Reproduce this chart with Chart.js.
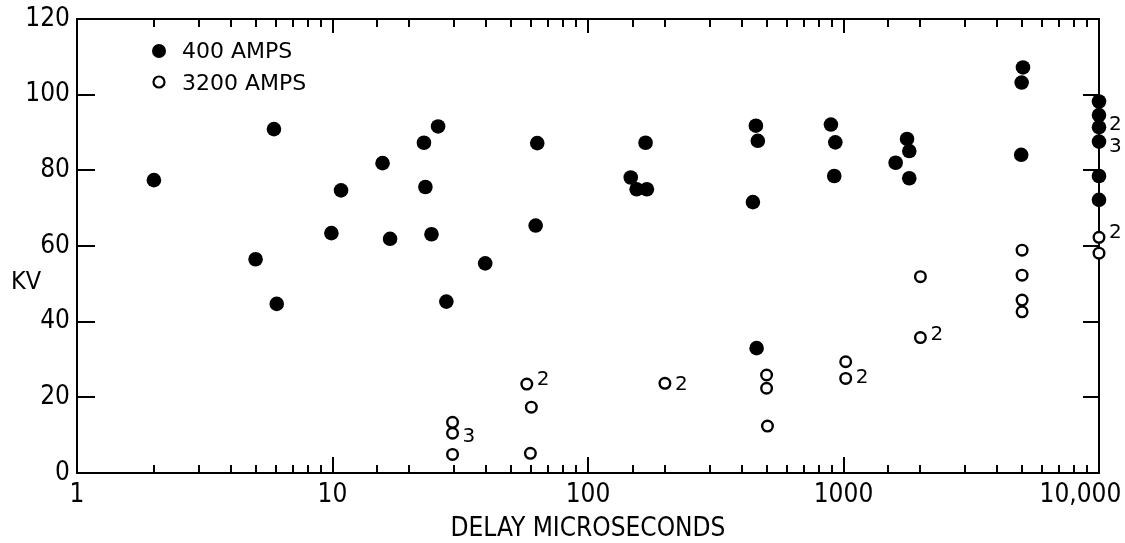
<!DOCTYPE html>
<html>
<head>
<meta charset="utf-8">
<script src="https://cdn.jsdelivr.net/npm/chart.js@4"></script>
<style>
  html, body { margin: 0; padding: 0; background: #fff; }
  #wrap { width: 1125px; height: 543px; }
</style>
</head>
<body>
<div id="wrap"><canvas id="kvChart" width="1125" height="543"></canvas></div>
<script>
// delay (microseconds) and breakdown voltage (kV)
const amps400Delay = [2, 5, 6.05, 5.9, 9.9, 10.8, 15.7, 16.8, 22.8, 23.1, 24.4, 25.9, 27.9, 39.6,
  62.4, 63.3, 147, 155, 168, 170, 442, 454, 457, 462, 893, 920, 929, 1600, 1773, 1809, 1809,
  4960, 4980, 5040, 10000, 10000, 10000, 10000, 10000, 10000];
const amps400Kv = [77.4, 56.5, 44.7, 90.9, 63.4, 74.7, 81.9, 61.9, 87.3, 75.6, 63.1, 91.6, 45.3, 55.4,
  65.4, 87.2, 78.1, 75.0, 87.3, 75.0, 71.6, 91.8, 33.0, 87.8, 92.1, 78.5, 87.4, 82.0, 88.3, 85.1, 77.9,
  84.1, 103.2, 107.2, 98.2, 94.6, 91.4, 87.6, 78.5, 72.2];

const amps3200Delay = [29.5, 29.5, 29.5, 57.6, 60, 59.5, 200, 500, 500, 504, 1020, 1020,
  2000, 2000, 5000, 5000, 5000, 5000, 10000, 10000];
const amps3200Kv = [4.9, 10.5, 13.4, 23.5, 17.4, 5.2, 23.7, 25.9, 22.4, 12.4, 29.4, 25.0,
  51.9, 35.8, 58.9, 52.3, 45.7, 42.6, 62.3, 58.1];

// number of coinciding readings written beside some points
const noteDelay = [10000, 10000, 10000, 29.5, 57.6, 200, 1020, 2000];
const noteKv = [92.0, 86.3, 63.4, 9.5, 24.6, 23.3, 25.1, 36.5];
const noteText = ['2', '3', '2', '3', '2', '2', '2', '2'];

const decadeLabels = ['1', '10', '100', '1000', '10,000'];
const kvTicks = [0, 20, 40, 60, 80, 100, 120];

const narrowFont = '"Liberation Sans Narrow", "DejaVu Sans Condensed", sans-serif';
const plainFont = '"DejaVu Sans", sans-serif';

function toPoints(xs, ys) {
  return xs.map((x, i) => ({ x, y: ys[i] }));
}

function decadeIndex(value) {
  const e = Math.log10(value);
  return Math.abs(e - Math.round(e)) < 1e-9 ? Math.round(e) : -1;
}

// inward tick marks, the top/right frame, legend, KV label and the count notes
const framePlugin = {
  id: 'framePlugin',
  beforeDatasetsDraw(chart) {
    const { ctx, chartArea: a, scales: { x, y } } = chart;
    ctx.save();
    ctx.strokeStyle = '#000';
    ctx.lineWidth = 2;
    ctx.beginPath();
    ctx.moveTo(a.left, a.top);
    ctx.lineTo(a.right, a.top);
    ctx.lineTo(a.right, a.bottom);
    ctx.stroke();

    ctx.beginPath();
    x.ticks.forEach(t => {
      const px = Math.round(x.getPixelForValue(t.value));
      if (px <= a.left + 1 || px >= a.right - 1) return;
      const major = decadeIndex(t.value) >= 0;
      ctx.moveTo(px, a.bottom);
      ctx.lineTo(px, a.bottom - (major ? 16 : 8));
      ctx.moveTo(px, a.top);
      ctx.lineTo(px, a.top + (major ? 14 : 8));
    });
    y.ticks.forEach(t => {
      if (t.value === 0 || t.value === 120) return;
      const py = Math.round(y.getPixelForValue(t.value));
      ctx.moveTo(a.left, py);
      ctx.lineTo(a.left + 18, py);
      ctx.moveTo(a.right, py);
      ctx.lineTo(a.right - 16, py);
    });
    ctx.stroke();
    ctx.restore();
  },
  afterDatasetsDraw(chart) {
    const { ctx, scales: { x, y } } = chart;
    ctx.save();
    ctx.fillStyle = '#000';
    ctx.strokeStyle = '#000';

    ctx.font = '20px ' + plainFont;
    ctx.textAlign = 'left';
    ctx.textBaseline = 'middle';
    noteText.forEach((txt, i) => {
      ctx.fillText(txt, x.getPixelForValue(noteDelay[i]) + 10, y.getPixelForValue(noteKv[i]));
    });

    ctx.font = '25px ' + narrowFont;
    ctx.fillText('KV', 11, 282);

    // legend
    const ds = chart.data.datasets;
    ctx.font = '22px ' + plainFont;
    ctx.beginPath();
    ctx.arc(159, 51, 7, 0, Math.PI * 2);
    ctx.fill();
    ctx.fillText(ds[0].label, 182, 52);
    ctx.lineWidth = 2.2;
    ctx.beginPath();
    ctx.arc(159, 82, 5.5, 0, Math.PI * 2);
    ctx.stroke();
    ctx.fillText(ds[1].label, 182, 84);
    ctx.restore();
  }
};

const chartContext = document.getElementById('kvChart').getContext('2d');
const kvChart = new Chart(chartContext, {
  type: 'scatter',
  data: {
    datasets: [
      {
        label: '400 AMPS',
        data: toPoints(amps400Delay, amps400Kv),
        pointRadius: 7.3,
        backgroundColor: '#000',
        borderColor: '#000',
        borderWidth: 0,
        clip: false,
      },
      {
        label: '3200 AMPS',
        data: toPoints(amps3200Delay, amps3200Kv),
        pointRadius: 5.3,
        backgroundColor: '#fff',
        borderColor: '#000',
        borderWidth: 2.4,
        clip: false,
      },
    ],
  },
  options: {
    responsive: false,
    animation: false,
    events: [],
    layout: {
      padding: { top: 19, right: 26, left: 0, bottom: 0 },
    },
    plugins: {
      legend: { display: false },
      tooltip: { enabled: false },
    },
    scales: {
      x: {
        type: 'logarithmic',
        min: 1,
        max: 10000,
        grid: { display: false, drawTicks: false },
        border: { display: true, color: '#000', width: 2 },
        ticks: {
          autoSkip: false,
          maxRotation: 0,
          padding: 7,
          color: '#000',
          font: { family: narrowFont, size: 26 },
          callback: value => {
            const i = decadeIndex(value);
            if (i < 0) return '';
            return i === 4 ? decadeLabels[i] + '     ' : decadeLabels[i];
          },
        },
        title: {
          display: true,
          text: 'DELAY MICROSECONDS',
          color: '#000',
          font: { family: narrowFont, size: 26 },
          padding: { top: 0, bottom: -2 },
        },
        afterFit: scale => {
          scale.height = 70;
          scale.paddingLeft = 0;
          scale.paddingRight = 0;
        },
      },
      y: {
        type: 'linear',
        min: 0,
        max: 120,
        afterBuildTicks: scale => {
          scale.ticks = kvTicks.map(value => ({ value }));
        },
        grid: { display: false, drawTicks: false },
        border: { display: true, color: '#000', width: 2 },
        ticks: {
          padding: 7,
          color: '#000',
          font: { family: narrowFont, size: 26 },
        },
        afterFit: scale => {
          scale.width = 77;
          scale.paddingTop = 0;
          scale.paddingBottom = 0;
        },
      },
    },
  },
  plugins: [framePlugin],
});
</script>
</body>
</html>
